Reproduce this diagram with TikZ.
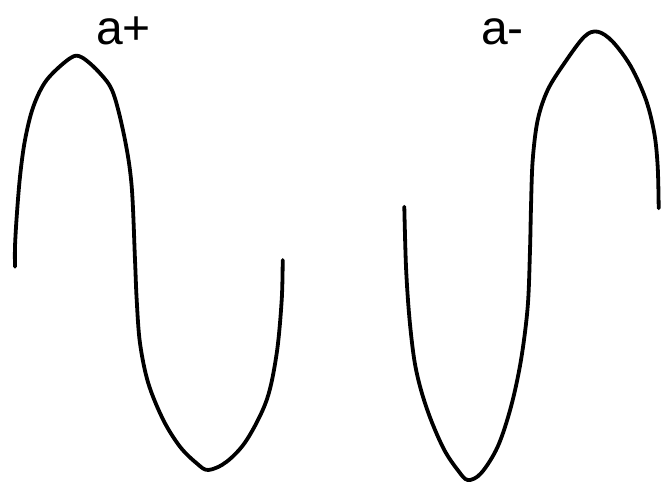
\documentclass[tikz,border=0pt]{standalone}
\usepackage{fontspec}
\setmainfont{Liberation Sans}
\begin{document}
\begin{tikzpicture}[x=1pt,y=-1pt,
  wave/.style={line width=3.8pt,line cap=round,line join=round,black},
  lbl/.style={font=\fontsize{48}{48}\selectfont,inner sep=0pt,anchor=base west}]
\useasboundingbox (0,0) rectangle (662,484);
\fill[white] (0,0) rectangle (662,484);
% curve a+
\draw[wave] plot[smooth,tension=0.55] coordinates {
 (15,266.7) (15,246.7) (16.7,216.7) (20,176.7) (25,140) (33.3,106.7) (46.7,80)
 (70,58.3) (81.7,57.3) (100,73.3) (113.3,93.3) (125,140) (131.7,186.7) (135,260)
 (136.7,300) (140,343.3) (148.3,383.3) (163.3,420) (180,446.7) (196.7,463.3)
 (208.3,470) (226.7,461.7) (246.7,440) (266.7,400) (276.7,353.3) (281.7,300) (282.7,260)};
% curve a-
\draw[wave] plot[smooth,tension=0.55] coordinates {
 (404.3,206.7) (406,266.7) (409.3,316.7) (414.3,360) (421,390) (431,420) (444.3,450)
 (457.7,470) (467.7,480) (481,473.3) (497.7,446.7) (511,406.7) (521,360) (527.7,306.7)
 (530,250) (531,206.7) (532.7,160) (537.7,120) (547.7,90) (564.3,63.3) (584.3,36.7)
 (597.7,31.7) (612.7,41.7) (631,66.7) (646,100) (654.3,133.3) (657.7,166.7) (658.7,208.3)};
\node[lbl] (ap) at (96,45) {a+};
\node[lbl] (am) at (481,45) {a-};
\end{tikzpicture}
\end{document}
